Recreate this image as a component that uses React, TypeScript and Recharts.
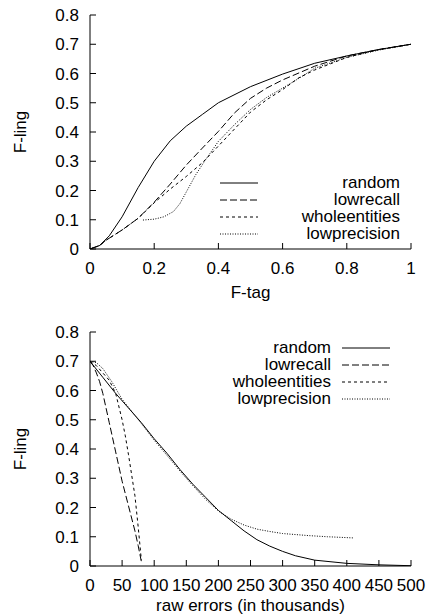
import { Legend, Line, LineChart, XAxis, YAxis } from "recharts";

// F-tag vs F-ling
const randomTag = [0, 0.03, 0.06, 0.1, 0.15, 0.2, 0.25, 0.3, 0.35, 0.4, 0.5, 0.6, 0.7, 0.8, 0.9, 1];
const randomLing = [0, 0.012, 0.045, 0.11, 0.21, 0.3, 0.37, 0.42, 0.46, 0.5, 0.555, 0.598, 0.635, 0.66, 0.682, 0.7];
const lowrecallTag = [0, 0.03, 0.05, 0.1, 0.15, 0.2, 0.25, 0.3, 0.35, 0.4, 0.45, 0.5, 0.55, 0.6, 0.7, 0.8, 0.9, 1];
const lowrecallLing = [0, 0.012, 0.03, 0.065, 0.105, 0.16, 0.222, 0.287, 0.345, 0.402, 0.465, 0.515, 0.55, 0.578, 0.625, 0.66, 0.682, 0.7];
const wholeTag = [0, 0.03, 0.05, 0.1, 0.15, 0.2, 0.25, 0.3, 0.35, 0.4, 0.45, 0.5, 0.55, 0.6, 0.65, 0.7, 0.8, 0.9, 1];
const wholeLing = [0, 0.012, 0.03, 0.065, 0.105, 0.158, 0.205, 0.248, 0.295, 0.352, 0.41, 0.468, 0.51, 0.545, 0.585, 0.612, 0.655, 0.682, 0.7];
const lowprecTag = [0.165, 0.2, 0.23, 0.26, 0.28, 0.3, 0.33, 0.36, 0.4, 0.45, 0.5, 0.55, 0.6, 0.65, 0.7, 0.8, 0.9, 1];
const lowprecLing = [0.099, 0.102, 0.11, 0.128, 0.155, 0.195, 0.255, 0.305, 0.368, 0.425, 0.477, 0.518, 0.55, 0.583, 0.618, 0.655, 0.68, 0.7];

// raw errors (thousands) vs F-ling
const randomErr = [0, 20, 40, 60, 80, 100, 120, 140, 160, 180, 200, 220, 240, 260, 280, 300, 320, 350, 400, 450, 500];
const randomErrLing = [0.7, 0.645, 0.59, 0.54, 0.49, 0.435, 0.385, 0.33, 0.28, 0.235, 0.19, 0.155, 0.12, 0.09, 0.068, 0.05, 0.035, 0.02, 0.009, 0.004, 0.001];
const lowrecallErr = [0, 5, 10, 15, 20, 25, 30, 40, 50, 60, 70, 75, 80];
const lowrecallErrLing = [0.7, 0.685, 0.66, 0.63, 0.59, 0.54, 0.49, 0.39, 0.29, 0.205, 0.12, 0.07, 0.015];
const wholeErr = [0, 10, 20, 30, 40, 50, 55, 60, 65, 70, 75, 80];
const wholeErrLing = [0.7, 0.685, 0.66, 0.635, 0.59, 0.5, 0.445, 0.38, 0.31, 0.24, 0.135, 0.02];
const lowprecErr = [0, 10, 20, 34, 50, 80, 100, 120, 140, 160, 180, 200, 220, 240, 260, 280, 300, 340, 370, 410];
const lowprecErrLing = [0.7, 0.695, 0.675, 0.63, 0.57, 0.487, 0.43, 0.378, 0.325, 0.275, 0.228, 0.188, 0.16, 0.14, 0.126, 0.118, 0.111, 0.104, 0.1, 0.096];

const seriesNames = ["random", "lowrecall", "wholeentities", "lowprecision"];
const lingTicks = [0, 0.1, 0.2, 0.3, 0.4, 0.5, 0.6, 0.7, 0.8];
const tagTicks = [0, 0.2, 0.4, 0.6, 0.8, 1];
const errTicks = [0, 50, 100, 150, 200, 250, 300, 350, 400, 450, 500];

const pts = (xs: number[], ys: number[]) => xs.map((x, i) => ({ x, y: ys[i] }));

const dashes: Record<string, string> = {
  random: "",
  lowrecall: "7 3",
  wholeentities: "3 3",
  lowprecision: "1 1.5",
};

const FONT = "'Liberation Sans', Arial, sans-serif";
const tickStyle = { fill: "#000", fontSize: 17, fontFamily: FONT };

const series = (which: "tag" | "err") =>
  which === "tag"
    ? [pts(randomTag, randomLing), pts(lowrecallTag, lowrecallLing), pts(wholeTag, wholeLing), pts(lowprecTag, lowprecLing)]
    : [
        pts(randomErr, randomErrLing),
        pts(lowrecallErr, lowrecallErrLing),
        pts(wholeErr, wholeErrLing),
        pts(lowprecErr, lowprecErrLing),
      ];

const ordered = (payload: any[]) =>
  [...(payload || [])].sort((a, b) => seriesNames.indexOf(a.value) - seriesNames.indexOf(b.value));

const LegendLeft = (props: any) => (
  <div style={{ fontFamily: FONT, fontSize: 17, color: "#000" }}>
    {ordered(props.payload).map((p: any) => (
      <div key={p.value} style={{ display: "flex", alignItems: "center", height: 17, lineHeight: "17px" }}>
        <svg width={38} height={4} style={{ flex: "none" }}>
          <line x1={0} y1={2} x2={38} y2={2} stroke="#000" strokeDasharray={dashes[p.value]} />
        </svg>
        <span style={{ flex: 1, textAlign: "right" }}>{p.value}</span>
      </div>
    ))}
  </div>
);

const LegendRight = (props: any) => (
  <div style={{ fontFamily: FONT, fontSize: 17, color: "#000" }}>
    {ordered(props.payload).map((p: any) => (
      <div key={p.value} style={{ display: "flex", alignItems: "center", height: 17, lineHeight: "17px" }}>
        <span style={{ flex: 1, textAlign: "right" }}>{p.value}</span>
        <svg width={48} height={4} style={{ flex: "none", marginLeft: 11 }}>
          <line x1={0} y1={2} x2={48} y2={2} stroke="#000" strokeDasharray={dashes[p.value]} />
        </svg>
      </div>
    ))}
  </div>
);

const Panel = ({ which }: { which: "tag" | "err" }) => {
  const xDomain = which === "tag" ? [0, 1] : [0, 500];
  const xTicks = which === "tag" ? tagTicks : errTicks;
  const lines = series(which);
  return (
    <LineChart width={430} height={307} margin={{ top: 15, right: 19, bottom: 0, left: 0 }}>
      <XAxis
        xAxisId="b"
        dataKey="x"
        type="number"
        domain={xDomain}
        ticks={xTicks}
        allowDataOverflow
        height={58}
        tickSize={-6}
        tickMargin={19}
        stroke="#000"
        tick={tickStyle}
        label={{
          value: which === "tag" ? "F-tag" : "raw errors (in thousands)",
          position: "insideTop",
          offset: which === "tag" ? 37 : 33,
          style: { fill: "#000", fontSize: 17, fontFamily: FONT },
        }}
      />
      <XAxis xAxisId="t" orientation="top" type="number" domain={xDomain} ticks={xTicks} allowDataOverflow height={0} tickSize={-6} tick={false} stroke="#000" />
      <YAxis
        yAxisId="l"
        type="number"
        domain={[0, 0.8]}
        ticks={lingTicks}
        allowDataOverflow
        width={90}
        tickSize={-6}
        tickMargin={17}
        stroke="#000"
        tick={tickStyle}
        label={{
          value: "F-ling",
          angle: -90,
          position: "insideLeft",
          offset: 20,
          style: { fill: "#000", fontSize: 17, fontFamily: FONT, textAnchor: "middle" },
        }}
      />
      <YAxis yAxisId="r" orientation="right" type="number" domain={[0, 0.8]} ticks={lingTicks} allowDataOverflow width={0} tickSize={-6} tick={false} stroke="#000" />
      <Legend
        layout="horizontal"
        verticalAlign="middle"
        align="center"
        content={which === "tag" ? LegendLeft : LegendRight}
        wrapperStyle={which === "tag" ? { left: 220, top: 174, width: 180 } : { left: 150, top: 22, width: 240 }}
      />
      {seriesNames.map((name, i) => (
        <Line
          key={name}
          xAxisId="b"
          yAxisId="l"
          name={name}
          data={lines[i]}
          dataKey="y"
          type="linear"
          stroke="#000"
          strokeWidth={1}
          strokeDasharray={dashes[name] || undefined}
          dot={false}
          activeDot={false}
          isAnimationActive={false}
        />
      ))}
    </LineChart>
  );
};

export default function App() {
  return (
    <div style={{ position: "absolute", left: 0, top: 0, width: 430, height: 615, overflow: "hidden", background: "#fff" }}>
      <div style={{ position: "absolute", left: 0, top: 0 }}>
        <Panel which="tag" />
      </div>
      <div style={{ position: "absolute", left: 0, top: 317 }}>
        <Panel which="err" />
      </div>
    </div>
  );
}
